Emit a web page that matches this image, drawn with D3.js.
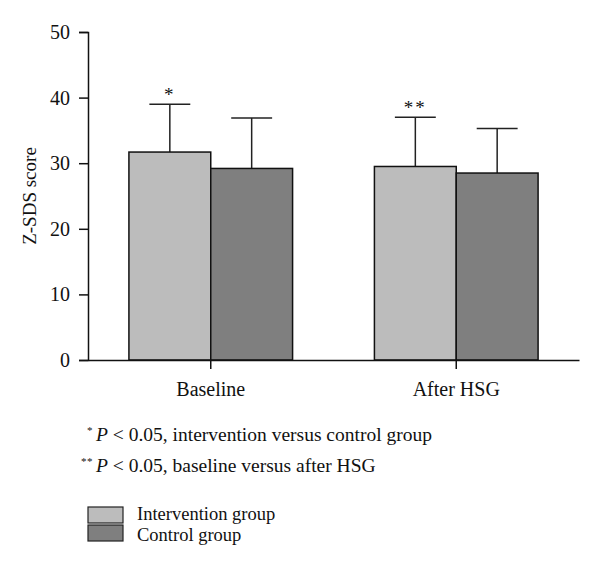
<!DOCTYPE html>
<html><head><meta charset="utf-8">
<script src="https://cdn.jsdelivr.net/npm/d3@7"></script>
<style>body{margin:0;background:#fff}svg{display:block}text{font-family:"Liberation Serif","DejaVu Serif",serif;fill:#111}</style>
</head><body>
<script>
const categories = ["Baseline", "After HSG"];
const seriesNames = ["Intervention group", "Control group"];
const means = [[31.7, 29.2], [29.5, 28.5]];
const errors = [[7.3, 7.7], [7.5, 6.8]];
const stars = [["*", ""], ["**", ""]];
const yTicks = [0, 10, 20, 30, 40, 50];
const colors = ["#bcbcbc", "#7f7f7f"];
const footnotes = [["*", "P", " < 0.05, intervention versus control group"], ["**", "P", " < 0.05, baseline versus after HSG"]];

const W = 600, H = 575;
const svg = d3.select("body").append("svg").attr("width", W).attr("height", H);
const y = d3.scaleLinear().domain([0, 50]).range([360, 32]);
const x0 = d3.scaleBand().domain(categories).range([88, 579]).padding(0);
const bw = x0.bandwidth();
const x1 = d3.scaleBand().domain(seriesNames).range([bw / 6, bw * 5 / 6]).padding(0);

// bars
categories.forEach((c, i) => {
  const g = svg.append("g").attr("transform", `translate(${x0(c)},0)`);
  seriesNames.forEach((s, j) => {
    const m = means[i][j], e = errors[i][j];
    const bx = x1(s), w = x1.bandwidth(), cx = bx + w / 2;
    g.append("line").attr("x1", cx).attr("x2", cx).attr("y1", y(m)).attr("y2", y(m + e))
      .attr("stroke", "#222").attr("stroke-width", 1.5);
    g.append("line").attr("x1", cx - w / 4).attr("x2", cx + w / 4).attr("y1", y(m + e)).attr("y2", y(m + e))
      .attr("stroke", "#222").attr("stroke-width", 1.5);
    g.append("rect").attr("x", bx).attr("y", y(m)).attr("width", w).attr("height", y(0) - y(m))
      .attr("fill", colors[j]).attr("stroke", "#111").attr("stroke-width", 1.5);
    if (stars[i][j]) {
      g.append("text").attr("x", cx).attr("y", y(m + e) - 3).attr("text-anchor", "middle")
        .attr("font-size", 19).attr("letter-spacing", 2).text(stars[i][j]);
    }
  });
});

// y axis
const yAxis = svg.append("g").attr("transform", "translate(88,0)")
  .call(d3.axisLeft(y).tickValues(yTicks).tickSize(9).tickPadding(9));
yAxis.select(".domain").attr("stroke", "#111").attr("stroke-width", 1.5);
yAxis.selectAll(".tick line").attr("stroke", "#111").attr("stroke-width", 1.5);
yAxis.selectAll(".tick text").attr("font-size", 20).attr("font-family", "Liberation Serif").attr("fill", "#111");

// x axis
const xAxis = svg.append("g").attr("transform", "translate(0,360)")
  .call(d3.axisBottom(x0).tickSize(9).tickPadding(13).tickSizeOuter(0));
xAxis.select(".domain").attr("stroke", "#111").attr("stroke-width", 1.5);
xAxis.selectAll(".tick line").attr("stroke", "#111").attr("stroke-width", 1.5);
xAxis.selectAll(".tick text").attr("font-size", 20).attr("font-family", "Liberation Serif").attr("fill", "#111");

// y label
svg.append("text").attr("transform", `translate(36,${(y(0) + y(50)) / 2}) rotate(-90)`)
  .attr("text-anchor", "middle").attr("font-size", 19).text("Z-SDS score");

// footnotes
footnotes.forEach((f, i) => {
  const yy = 441 + i * 31;
  svg.append("text").attr("x", 93).attr("y", yy - 7).attr("text-anchor", "end")
    .attr("font-size", 11).attr("letter-spacing", 0.5).text(f[0]);
  const t = svg.append("text").attr("x", 96).attr("y", yy).attr("font-size", 19.5);
  t.append("tspan").attr("font-style", "italic").text(f[1]);
  t.append("tspan").text(f[2]);
});

// legend
seriesNames.forEach((s, j) => {
  svg.append("rect").attr("x", 88).attr("y", 507 + j * 18).attr("width", 35).attr("height", 16)
    .attr("fill", colors[j]).attr("stroke", "#222").attr("stroke-width", 1.2);
  svg.append("text").attr("x", 137).attr("y", 520 + j * 21).attr("font-size", 18.5).text(s);
});
</script>
</body></html>
